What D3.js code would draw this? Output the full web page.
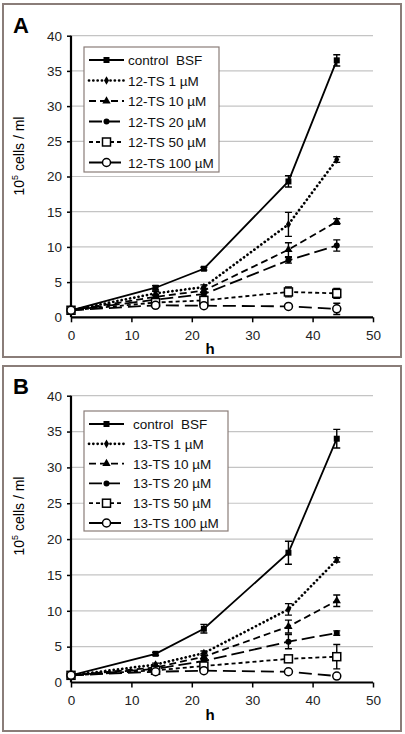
<!DOCTYPE html>
<html><head><meta charset="utf-8">
<script src="https://cdn.jsdelivr.net/npm/d3@7"></script>
<style>body{margin:0;background:#fff}svg{display:block;font-family:"Liberation Sans",Arial,sans-serif}</style>
</head><body>
<svg id="c" width="405" height="734"></svg>
<script>
const hours = [0, 14, 22, 36, 44];
const xTicks = [0, 10, 20, 30, 40, 50];
const yTicks = [0, 5, 10, 15, 20, 25, 30, 35, 40];
const namesA = ["control  BSF", "12-TS 1 µM", "12-TS 10 µM", "12-TS 20 µM", "12-TS 50 µM", "12-TS 100 µM"];
const namesB = ["control  BSF", "13-TS 1 µM", "13-TS 10 µM", "13-TS 20 µM", "13-TS 50 µM", "13-TS 100 µM"];
const A_control = [1.0, 4.2, 6.9, 19.3, 36.5];
const A_control_err = [0.1, 0.3, 0.2, 0.8, 0.8];
const A_1 = [1.0, 3.4, 4.3, 13.2, 22.4];
const A_1_err = [0, 0.3, 0.3, 1.7, 0.4];
const A_10 = [1.0, 2.9, 3.8, 9.6, 13.6];
const A_10_err = [0, 0.3, 0.3, 1.0, 0.4];
const A_20 = [1.0, 2.5, 3.3, 8.1, 10.2];
const A_20_err = [0, 0.3, 0.3, 0.4, 0.8];
const A_50 = [1.0, 2.1, 2.4, 3.6, 3.4];
const A_50_err = [0, 0.2, 0.2, 0.7, 0.7];
const A_100 = [1.0, 1.7, 1.65, 1.55, 1.2];
const A_100_err = [0, 0.1, 0.1, 0.2, 0.8];
const B_control = [1.0, 4.0, 7.5, 18.1, 34.0];
const B_control_err = [0.1, 0.2, 0.6, 1.6, 1.3];
const B_1 = [1.0, 2.5, 4.1, 10.2, 17.1];
const B_1_err = [0, 0.2, 0.3, 0.8, 0.3];
const B_10 = [1.0, 2.1, 3.6, 7.8, 11.4];
const B_10_err = [0, 0.2, 0.4, 0.9, 0.8];
const B_20 = [1.0, 1.9, 3.0, 5.7, 6.9];
const B_20_err = [0, 0.2, 0.3, 1.0, 0.3];
const B_50 = [1.0, 1.7, 2.3, 3.3, 3.6];
const B_50_err = [0, 0.1, 0.2, 0.3, 1.7];
const B_100 = [1.0, 1.5, 1.65, 1.5, 0.9];
const B_100_err = [0, 0.1, 0.1, 0.1, 0.2];

const styles = [
  {dash: null, width: 1.8, marker: "square"},
  {dash: "0.1,4.2", width: 2.7, cap: "round", marker: "diamond"},
  {dash: "7,4", width: 1.8, marker: "triangle"},
  {dash: "13,5", width: 1.8, marker: "circle"},
  {dash: "4,3", width: 1.8, marker: "osquare"},
  {dash: "13,6", width: 1.8, marker: "ocircle"}
];

const svg = d3.select("#c");

function marker(g, type, x, y) {
  if (type === "square") g.append("rect").attr("x", x-3).attr("y", y-3).attr("width", 6).attr("height", 6).attr("fill", "#000");
  else if (type === "diamond") g.append("path").attr("d", d3.symbol(d3.symbolDiamond, 22)()).attr("transform", `translate(${x},${y})`).attr("fill", "#000");
  else if (type === "triangle") g.append("path").attr("d", d3.symbol(d3.symbolTriangle, 30)()).attr("transform", `translate(${x},${y})`).attr("fill", "#000");
  else if (type === "circle") g.append("circle").attr("cx", x).attr("cy", y).attr("r", 3).attr("fill", "#000");
  else if (type === "osquare") g.append("rect").attr("x", x-4).attr("y", y-4).attr("width", 8).attr("height", 8).attr("fill", "#fff").attr("stroke", "#000").attr("stroke-width", 1.5);
  else if (type === "ocircle") g.append("circle").attr("cx", x).attr("cy", y).attr("r", 4).attr("fill", "#fff").attr("stroke", "#000").attr("stroke-width", 1.5);
}

function panel(cfg) {
  const g = svg.append("g");
  g.append("rect").attr("x", cfg.box[0]).attr("y", cfg.box[1]).attr("width", cfg.box[2]).attr("height", cfg.box[3])
    .attr("fill", "#fff").attr("stroke", "#8a7d79").attr("stroke-width", 2);
  const x = d3.scaleLinear().domain([0, 50]).range([71, 373]);
  const y = d3.scaleLinear().domain([0, 40]).range([cfg.y0, cfg.y40]);
  g.append("g").selectAll("line").data(yTicks.filter(d => d > 0)).join("line")
    .attr("x1", x(0)).attr("x2", x(50)).attr("y1", d => y(d)).attr("y2", d => y(d))
    .attr("stroke", "#c4c4c4").attr("stroke-width", 1.2);
  const ya = g.append("g").attr("transform", `translate(${x(0)},0)`)
    .call(d3.axisLeft(y).tickValues(yTicks).tickSize(4).tickPadding(5));
  ya.select(".domain").attr("stroke-width", 2.2).attr("d", `M0,${y(0)}V${y(40)}`);
  ya.selectAll(".tick line").attr("stroke-width", 1.5);
  ya.selectAll("text").attr("font-size", 13.5).attr("fill", "#222").attr("font-family", "Liberation Sans, Arial");
  ya.selectAll(".tick").filter(d => d === 0).select("line").remove();
  const xa = g.append("g").attr("transform", `translate(0,${y(0)})`)
    .call(d3.axisBottom(x).tickValues(xTicks).tickSize(5).tickPadding(8));
  xa.select(".domain").attr("stroke-width", 2.2).attr("d", `M${x(0)},0H${x(50)}`);
  xa.selectAll(".tick line").attr("stroke-width", 1.5);
  xa.selectAll("text").attr("font-size", 13.5).attr("fill", "#222").attr("font-family", "Liberation Sans, Arial");
  g.append("text").attr("x", 13).attr("y", cfg.labelY).attr("font-size", 22).attr("font-weight", "bold").text(cfg.label);
  g.append("text").attr("x", 210).attr("y", y(0) + 37).attr("text-anchor", "middle").attr("font-size", 15).attr("font-weight", "bold").text("h");
  const yl = g.append("text").attr("transform", `translate(24,${cfg.ylabC}) rotate(-90)`).attr("text-anchor", "middle").attr("font-size", 14);
  yl.append("tspan").text("10");
  yl.append("tspan").attr("font-size", 9).attr("dy", -6).text("5");
  yl.append("tspan").attr("dy", 6).text(" cells / ml");
  const line = d3.line().x((d, i) => x(hours[i])).y(d => y(d));
  cfg.series.forEach((s, k) => {
    const st = styles[k];
    const sg = g.append("g");
    sg.append("path").attr("d", line(s.v)).attr("fill", "none").attr("stroke", "#000")
      .attr("stroke-width", st.width).attr("stroke-dasharray", st.dash).attr("stroke-linecap", st.cap || "butt");
    s.v.forEach((v, i) => {
      const e = s.e[i];
      if (e > 0.15) {
        const xx = x(hours[i]);
        sg.append("path").attr("d", `M${xx},${y(v-e)}V${y(v+e)}M${xx-3.5},${y(v-e)}H${xx+3.5}M${xx-3.5},${y(v+e)}H${xx+3.5}`)
          .attr("stroke", "#000").attr("stroke-width", 1.4).attr("fill", "none");
      }
    });
    s.v.forEach((v, i) => marker(sg, st.marker, x(hours[i]), y(v)));
  });
  const L = cfg.legend;
  g.append("rect").attr("x", L.x).attr("y", L.y).attr("width", L.w).attr("height", L.h)
    .attr("fill", "#fff").attr("stroke", "#8a7d79").attr("stroke-width", 1.2);
  cfg.names.forEach((n, k) => {
    const st = styles[k];
    const cy = L.y + 13 + k * L.step;
    g.append("line").attr("x1", L.x + 5).attr("x2", L.x + 40).attr("y1", cy).attr("y2", cy)
      .attr("stroke", "#000").attr("stroke-width", st.width).attr("stroke-dasharray", st.dash).attr("stroke-linecap", st.cap || "butt");
    marker(g, st.marker, L.x + 22.5, cy);
    g.append("text").attr("x", L.x + L.tx).attr("y", cy + 5).attr("font-size", 13.5).attr("fill", "#111").attr("xml:space", "preserve").text(n);
  });
}

panel({
  box: [3, 4, 398, 353], y0: 317.3, y40: 35.7, label: "A", labelY: 33, ylabC: 156,
  names: namesA,
  series: [
    {v: A_control, e: A_control_err}, {v: A_1, e: A_1_err}, {v: A_10, e: A_10_err},
    {v: A_20, e: A_20_err}, {v: A_50, e: A_50_err}, {v: A_100, e: A_100_err}
  ],
  legend: {x: 84, y: 47, w: 135, h: 125, step: 20.5, tx: 44}
});
panel({
  box: [3, 366, 398, 365], y0: 682.5, y40: 395.7, label: "B", labelY: 394, ylabC: 516,
  names: namesB,
  series: [
    {v: B_control, e: B_control_err}, {v: B_1, e: B_1_err}, {v: B_10, e: B_10_err},
    {v: B_20, e: B_20_err}, {v: B_50, e: B_50_err}, {v: B_100, e: B_100_err}
  ],
  legend: {x: 84, y: 411, w: 144, h: 120, step: 19.8, tx: 49}
});
</script>
</body></html>
